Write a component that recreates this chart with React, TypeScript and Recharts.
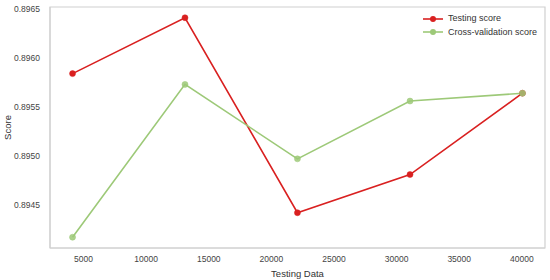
import { LineChart, Line, XAxis, YAxis, ReferenceArea } from "recharts"

const testingData = [4120, 13100, 22080, 31070, 40050]
const testingScore = [0.89584, 0.89641, 0.89442, 0.89481, 0.89564]
const crossValScore = [0.89417, 0.89573, 0.89497, 0.89556, 0.89564]
const xTicks = [5000, 10000, 15000, 20000, 25000, 30000, 35000, 40000]
const yTicks = [0.8945, 0.895, 0.8955, 0.896, 0.8965]

const data = testingData.map((x, i) => ({
  x,
  test: testingScore[i],
  cv: crossValScore[i],
}))

const RED = "#d92020"
const GREEN = "#9dc978"
const FRAME = "#d0d0d0"
const FONT = "'Liberation Sans', Arial, sans-serif"
const xDomain = [2320, 41850]
const yDomain = [0.89406, 0.89652]

function LegendBox() {
  const items = [
    { label: "Testing score", color: RED },
    { label: "Cross-validation score", color: GREEN },
  ]
  return (
    <div
      style={{
        position: "absolute",
        left: 423,
        top: 12,
        fontFamily: FONT,
        fontSize: 9,
        color: "#333",
        lineHeight: "13.5px",
      }}
    >
      {items.map((it) => (
        <div key={it.label} style={{ display: "flex", alignItems: "center" }}>
          <svg width={20} height={8} style={{ marginRight: 5 }}>
            <line x1={0} y1={4} x2={20} y2={4} stroke={it.color} strokeWidth={1.6} />
            <circle cx={10} cy={4} r={3} fill={it.color} />
          </svg>
          <span>{it.label}</span>
        </div>
      ))}
    </div>
  )
}

export default function App() {
  return (
    <div style={{ position: "absolute", left: 0, top: 0, width: 550, height: 280, background: "#fff" }}>
      <LineChart
        width={550}
        height={280}
        data={data}
        margin={{ top: 7, right: 5, left: 0, bottom: 0 }}
        style={{ fontFamily: FONT }}
      >
        <XAxis
          dataKey="x"
          type="number"
          domain={xDomain}
          ticks={xTicks}
          tickLine={false}
          axisLine={{ stroke: FRAME }}
          tick={{ fontSize: 8.5, fill: "#444" }}
          tickMargin={2}
          height={32}
          label={{ value: "Testing Data", position: "insideBottom", offset: 3, fontSize: 9.5, fill: "#333" }}
        />
        <YAxis
          type="number"
          domain={yDomain}
          ticks={yTicks}
          tickFormatter={(v: number) => v.toFixed(4)}
          tickLine={false}
          axisLine={{ stroke: FRAME }}
          tick={{ fontSize: 8.5, fill: "#444" }}
          tickMargin={4}
          width={50}
          label={{
            value: "Score",
            content: (p: any) => {
              const vb = p.viewBox
              const cy = vb.y + vb.height / 2
              return (
                <text x={11} y={cy} transform={`rotate(-90 11 ${cy})`} textAnchor="middle" fontSize={9.5} fill="#333">
                  Score
                </text>
              )
            },
          }}
        />
        <ReferenceArea
          x1={xDomain[0]}
          x2={xDomain[1]}
          y1={yDomain[0]}
          y2={yDomain[1]}
          fill="none"
          stroke={FRAME}
          strokeWidth={1.2}
        />
        <Line
          dataKey="test"
          stroke={RED}
          strokeWidth={1.6}
          dot={{ r: 3, fill: RED, stroke: RED, strokeWidth: 0.5 }}
          activeDot={false}
          isAnimationActive={false}
        />
        <Line
          dataKey="cv"
          stroke={GREEN}
          strokeWidth={1.6}
          dot={{ r: 3, fill: GREEN, stroke: GREEN, strokeWidth: 0.5, fillOpacity: 0.85 }}
          activeDot={false}
          isAnimationActive={false}
        />
      </LineChart>
      <LegendBox />
    </div>
  )
}
